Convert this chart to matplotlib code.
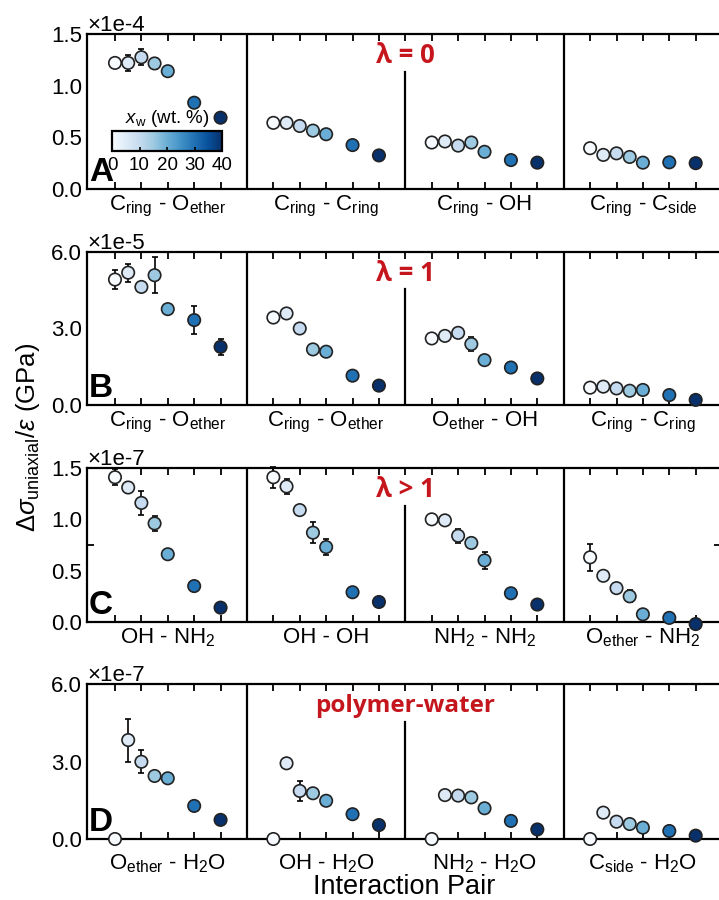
import numpy as np
import matplotlib
matplotlib.use("Agg")
import matplotlib.pyplot as plt
from matplotlib.colors import Normalize
from matplotlib.cm import ScalarMappable

plt.rcParams['font.family'] = ['Liberation Sans', 'DejaVu Sans']
plt.rcParams['mathtext.fontset'] = 'custom'
plt.rcParams['mathtext.rm'] = 'Liberation Sans'
plt.rcParams['mathtext.it'] = 'Liberation Sans:italic'
plt.rcParams['mathtext.bf'] = 'Liberation Sans:bold'
plt.rcParams['mathtext.default'] = 'regular'

# water content (wt. %) of each point in a group
wt = [0, 5, 10, 15, 20, 30, 40]

# ---- panel A (x1e-4), lambda = 0
pairs_a = ["C$_{ring}$ - O$_{ether}$", "C$_{ring}$ - C$_{ring}$",
           "C$_{ring}$ - OH", "C$_{ring}$ - C$_{side}$"]
vals_a = [[1.22, 1.22, 1.275, 1.215, 1.14, 0.835, 0.69],
          [0.64, 0.64, 0.61, 0.565, 0.53, 0.425, 0.325],
          [0.45, 0.46, 0.42, 0.45, 0.36, 0.28, 0.255],
          [0.395, 0.33, 0.345, 0.31, 0.255, 0.258, 0.25]]
errs_a = [[0.03, 0.075, 0.075, 0.05, 0, 0, 0],
          [0, 0, 0, 0, 0, 0, 0],
          [0, 0, 0, 0, 0, 0, 0],
          [0, 0, 0, 0, 0, 0, 0]]

# ---- panel B (x1e-5), lambda = 1
pairs_b = ["C$_{ring}$ - O$_{ether}$", "C$_{ring}$ - O$_{ether}$",
           "O$_{ether}$ - OH", "C$_{ring}$ - C$_{ring}$"]
vals_b = [[4.92, 5.19, 4.63, 5.09, 3.76, 3.33, 2.28],
          [3.43, 3.59, 3.0, 2.18, 2.09, 1.15, 0.76],
          [2.61, 2.71, 2.83, 2.39, 1.76, 1.47, 1.04],
          [0.68, 0.72, 0.65, 0.56, 0.59, 0.39, 0.2]]
errs_b = [[0.37, 0.35, 0, 0.7, 0.17, 0.55, 0.31],
          [0, 0, 0, 0, 0, 0, 0],
          [0, 0, 0, 0.26, 0.15, 0, 0],
          [0, 0, 0, 0, 0, 0, 0]]

# ---- panel C (x1e-7), lambda > 1
pairs_c = ["OH - NH$_2$", "OH - OH", "NH$_2$ - NH$_2$", "O$_{ether}$ - NH$_2$"]
vals_c = [[1.41, 1.31, 1.16, 0.96, 0.66, 0.35, 0.14],
          [1.41, 1.32, 1.09, 0.87, 0.73, 0.29, 0.195],
          [1.0, 0.99, 0.84, 0.77, 0.60, 0.28, 0.17],
          [0.63, 0.45, 0.33, 0.25, 0.075, 0.04, -0.02]]
errs_c = [[0.08, 0.05, 0.12, 0.07, 0, 0, 0],
          [0.1, 0.07, 0, 0.1, 0.08, 0, 0],
          [0.05, 0, 0.07, 0.05, 0.08, 0, 0],
          [0.13, 0, 0, 0.06, 0, 0, 0]]

# ---- panel D (x1e-7), polymer-water
pairs_d = ["O$_{ether}$ - H$_2$O", "OH - H$_2$O", "NH$_2$ - H$_2$O", "C$_{side}$ - H$_2$O"]
vals_d = [[0, 3.83, 2.99, 2.44, 2.35, 1.28, 0.74],
          [0, 2.93, 1.86, 1.77, 1.48, 0.96, 0.54],
          [0, 1.70, 1.68, 1.61, 1.19, 0.70, 0.37],
          [0, 1.02, 0.67, 0.58, 0.44, 0.31, 0.13]]
errs_d = [[0, 0.83, 0.45, 0, 0, 0, 0],
          [0, 0, 0.39, 0.2, 0, 0, 0],
          [0, 0.15, 0, 0, 0, 0, 0],
          [0, 0, 0, 0, 0, 0, 0]]

panels = [
    dict(letter="A", title="λ = 0", scale="×1e-4", ymax=1.5, yticks=[0, 0.5, 1.0, 1.5],
         inner=[0.5, 1.0], pairs=pairs_a, vals=vals_a, errs=errs_a, top=34, bot=189, lab=21),
    dict(letter="B", title="λ = 1", scale="×1e-5", ymax=6.0, yticks=[0, 3.0, 6.0],
         inner=[3.0], pairs=pairs_b, vals=vals_b, errs=errs_b, top=252, bot=405, lab=21),
    dict(letter="C", title="λ > 1", scale="×1e-7", ymax=1.5, yticks=[0, 0.5, 1.0, 1.5],
         inner=[0.75], pairs=pairs_c, vals=vals_c, errs=errs_c, top=468, bot=622, lab=21),
    dict(letter="D", title="polymer-water", scale="×1e-7", ymax=6.0, yticks=[0, 3.0, 6.0],
         inner=[3.0], pairs=pairs_d, vals=vals_d, errs=errs_d, top=684, bot=839, lab=30),
]

W, H = 719, 900
fig = plt.figure(figsize=(W / 100, H / 100), dpi=100)
cmap = plt.cm.Blues
norm = Normalize(0, 40)
group_w = 60
red = '#c4161c'
fs = 16

for p in panels:
    ax = fig.add_axes([87 / W, 1 - p['bot'] / H, (720.5 - 87) / W, (p['bot'] - p['top']) / H])
    for g in range(4):
        x = [g * group_w + w for w in wt]
        ax.errorbar(x, p['vals'][g], yerr=p['errs'][g], fmt='none', ecolor='black',
                    elinewidth=1.2, capsize=2.5, capthick=1.2, zorder=2, clip_on=False)
        ax.scatter(x, p['vals'][g], c=wt, cmap=cmap, norm=norm, s=80,
                   edgecolors='#222222', linewidths=1.2, zorder=3, clip_on=False)
        ax.annotate(p['pairs'][g], xy=(g * group_w + 20, 0), xycoords=('data', 'axes fraction'),
                    xytext=(0, -p['lab'] * 0.72), textcoords='offset points',
                    ha='center', va='baseline', fontsize=fs)

    ax.set_xlim(-10.6, 229.4)
    ax.set_ylim(0, p['ymax'])
    ax.axvline(50, color='black', lw=1.6)
    ax.axvline(170, color='black', lw=1.6)
    ax.axvline(110, ymin=0, ymax=0.755, color='black', lw=1.6)

    ax.set_xticks(np.arange(0, 221, 10))
    ax.set_xticklabels([])
    ax.tick_params(axis='x', direction='in', top=True, bottom=True, length=5, width=1.3)
    ax.set_yticks(p['yticks'])
    ax.set_yticklabels([f"{t:.1f}" for t in p['yticks']], fontsize=fs)
    ax.set_yticks(p['inner'], minor=True)
    ax.tick_params(axis='y', which='major', length=0, pad=3.5)
    ax.tick_params(axis='y', which='minor', direction='in', left=True, right=True,
                   length=5, width=1.3)
    for s in ax.spines.values():
        s.set_linewidth(1.6)

    ax.annotate(p['scale'], xy=(0, 1), xycoords='axes fraction', xytext=(0, 2.5),
                textcoords='offset points', ha='left', va='baseline', fontsize=fs)
    ax.text(110, 0.86, p['title'], transform=ax.get_xaxis_transform(), ha='center', va='center',
            fontsize=18.5 if p['letter'] != 'D' else 17.5, fontweight='bold', color=red,
            family=['Open Sans', 'DejaVu Sans'])
    ax.annotate(p['letter'], xy=(0, 0), xycoords='axes fraction', xytext=(1.5, 5.8),
                textcoords='offset points', ha='left', va='baseline', fontsize=24,
                fontweight='bold')

# colour bar inside panel A
cax = fig.add_axes([112 / W, 1 - 151 / H, 110 / W, 20 / H])
cb = fig.colorbar(ScalarMappable(norm=norm, cmap=cmap), cax=cax, orientation='horizontal')
cb.set_ticks([0, 10, 20, 30, 40])
cb.ax.tick_params(direction='in', length=3, width=1.2, labelsize=13.5, pad=4)
cb.outline.set_linewidth(1.6)
cax.text(0.5, 1.12, "$\\mathit{x}_{w}$ (wt. %)", transform=cax.transAxes, ha='center',
         va='bottom', fontsize=13.5)

fig.text(28 / W, 1 - 437 / H, "$\\mathit{\\Delta\\sigma}_{uniaxial}/\\mathit{\\varepsilon}$ (GPa)",
         rotation=90, ha='center', va='center', fontsize=18.5)
fig.text(404 / W, 1 - 894 / H, "Interaction Pair", ha='center', va='baseline', fontsize=19.5)

fig.savefig("out.png", dpi=100)
